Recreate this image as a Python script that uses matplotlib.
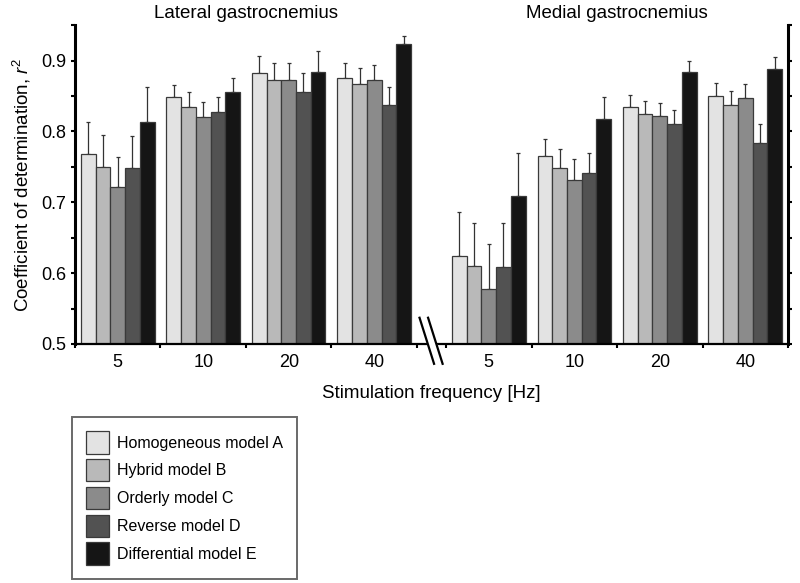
import numpy as np
import matplotlib.pyplot as plt

plt.rcParams['font.family'] = ['Liberation Sans', 'DejaVu Sans']
plt.rcParams['mathtext.fontset'] = 'custom'
plt.rcParams['mathtext.rm'] = 'Liberation Sans'
plt.rcParams['mathtext.it'] = 'Liberation Sans:italic'

freqs = ['5', '10', '20', '40']
models = ['Homogeneous model A', 'Hybrid model B', 'Orderly model C',
          'Reverse model D', 'Differential model E']
colors = ['#e3e3e3', '#b9b9b9', '#8b8b8b', '#525252', '#151515']

# mean r^2, one row per model, columns = 5, 10, 20, 40 Hz
lat_mean = [
    [0.768, 0.848, 0.882, 0.875],
    [0.750, 0.834, 0.873, 0.867],
    [0.721, 0.820, 0.872, 0.873],
    [0.749, 0.828, 0.856, 0.837],
    [0.813, 0.856, 0.884, 0.923],
]
lat_err = [
    [0.045, 0.017, 0.024, 0.022],
    [0.045, 0.021, 0.023, 0.023],
    [0.043, 0.022, 0.024, 0.021],
    [0.045, 0.020, 0.026, 0.026],
    [0.050, 0.020, 0.029, 0.011],
]
med_mean = [
    [0.624, 0.765, 0.834, 0.850],
    [0.610, 0.749, 0.824, 0.837],
    [0.577, 0.732, 0.822, 0.847],
    [0.608, 0.741, 0.810, 0.783],
    [0.709, 0.817, 0.884, 0.888],
]
med_err = [
    [0.062, 0.024, 0.017, 0.018],
    [0.060, 0.026, 0.019, 0.020],
    [0.064, 0.029, 0.018, 0.020],
    [0.062, 0.028, 0.020, 0.028],
    [0.060, 0.031, 0.015, 0.017],
]
muscles = ['Lateral gastrocnemius', 'Medial gastrocnemius']

fig = plt.figure(figsize=(8, 5.83), dpi=100)
ax = fig.add_axes([0.09375, 0.41, 0.89125, 0.547])

gap = 0.34
starts = [0, 4 + gap]
bw = 0.172
off = 0.07

for p, (means, errs) in enumerate([(lat_mean, lat_err), (med_mean, med_err)]):
    for m in range(5):
        x = starts[p] + np.arange(4) + off + bw * m + bw / 2
        ax.bar(x, means[m], bw, color=colors[m], edgecolor='#3a3a3a',
               linewidth=0.9, label=models[m] if p == 0 else None, zorder=2)
        ax.errorbar(x, means[m], yerr=[np.zeros(4), errs[m]], fmt='none',
                    ecolor='#333333', elinewidth=0.9, capsize=1.5,
                    capthick=0.9, zorder=1)
    ax.text(starts[p] + 2, 0.966, muscles[p], ha='center', va='center',
            fontsize=13.5)

ax.set_xlim(0, 8 + gap)
ax.set_ylim(0.5, 0.95)

major_x = np.concatenate([np.arange(5), starts[1] + np.arange(5)])
ax.set_xticks(major_x)
ax.set_xticklabels([''] * len(major_x))
centers = np.concatenate([np.arange(4) + 0.5, starts[1] + np.arange(4) + 0.5])
ax.set_xticks(centers, minor=True)
ax.set_xticklabels(freqs * 2, minor=True, fontsize=13)
ax.tick_params(axis='x', which='minor', length=0, pad=7)
ax.tick_params(axis='x', which='major', direction='out', length=3, width=1.5)

yt = np.arange(0.5, 0.951, 0.05)
ax.set_yticks(yt)
ax.set_yticklabels(['%.1f' % v if i % 2 == 0 else '' for i, v in enumerate(yt)],
                   fontsize=13)
ax.tick_params(axis='y', direction='out', length=3, width=1.5, right=True)

ax.spines['top'].set_visible(False)
ax.spines['left'].set_linewidth(2.2)
ax.spines['right'].set_linewidth(2.2)
ax.spines['bottom'].set_linewidth(1.6)

# axis break marks
ax.fill([4.03, 4.13, 4.30, 4.20], [0.537, 0.537, 0.472, 0.472], color='white',
        clip_on=False, zorder=5)
ax.plot([4.03, 4.20], [0.537, 0.472], color='black', lw=1.6, clip_on=False, zorder=6)
ax.plot([4.13, 4.30], [0.537, 0.472], color='black', lw=1.6, clip_on=False, zorder=6)

ax.set_ylabel('Coefficient of determination, $r^2$', fontsize=13.5, labelpad=6)
ax.set_xlabel('Stimulation frequency [Hz]', fontsize=13.5, labelpad=10)

leg = fig.legend(loc='upper left', bbox_to_anchor=(0.09, 0.285), fontsize=11.5,
                 frameon=True, fancybox=False, handlelength=1.44,
                 handleheight=1.79, labelspacing=0.33, handletextpad=0.48,
                 borderpad=0.9, borderaxespad=0)
leg.get_frame().set_edgecolor('#444444')
leg.get_frame().set_linewidth(1.4)

fig.savefig('out.png', dpi=100)
